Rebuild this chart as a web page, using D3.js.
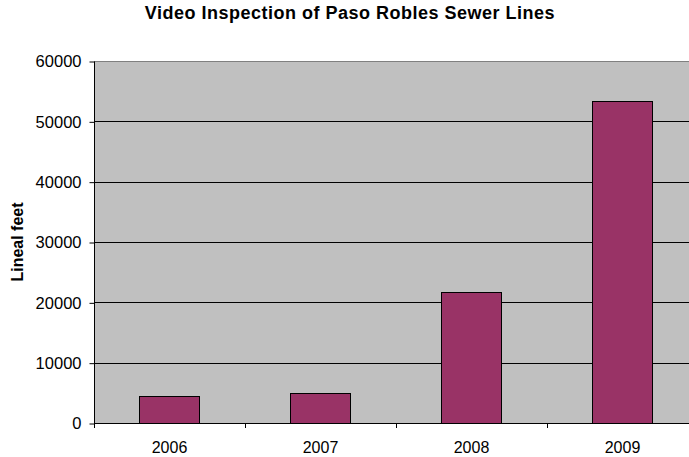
<!DOCTYPE html>
<html>
<head>
<meta charset="utf-8">
<script src="https://cdn.jsdelivr.net/npm/d3@7"></script>
<style>
  html, body { margin: 0; padding: 0; background: #fff; }
  svg { display: block; font-family: "Liberation Sans", Arial, sans-serif; }
</style>
</head>
<body>
<svg id="chart" width="689" height="457"></svg>
<script>
// Lineal feet of sewer line inspected by video, per year
const years = ["2006", "2007", "2008", "2009"];
const linealFeet = [4400, 5050, 21700, 53400];
const yTicks = [0, 10000, 20000, 30000, 40000, 50000, 60000];

const titleText = "Video Inspection of Paso Robles Sewer Lines";
const yLabel = "Lineal feet";

const FONT = "'Liberation Sans', Arial, sans-serif";
const svg = d3.select("#chart");
const plot = { left: 94, right: 698, top: 61, bottom: 423 };

const x = d3.scaleBand()
  .domain(years)
  .range([plot.left, plot.right])
  .paddingInner(0.6)
  .paddingOuter(0.3);

const y = d3.scaleLinear()
  .domain([0, 60000])
  .range([plot.bottom, plot.top]);

// plot background
svg.append("rect")
  .attr("x", plot.left + 0.5).attr("y", plot.top + 0.5)
  .attr("width", plot.right - plot.left)
  .attr("height", plot.bottom - plot.top)
  .attr("fill", "#c0c0c0")
  .attr("stroke", "#808080")
  .attr("stroke-width", 1);

// horizontal gridlines
svg.append("g")
  .selectAll("line")
  .data(yTicks.filter(t => t > 0 && t < 60000))
  .join("line")
  .attr("x1", plot.left).attr("x2", plot.right)
  .attr("y1", d => Math.round(y(d)) + 0.5)
  .attr("y2", d => Math.round(y(d)) + 0.5)
  .attr("stroke", "#000")
  .attr("stroke-width", 1);

// bars
svg.append("g")
  .selectAll("rect")
  .data(years.map((yr, i) => ({ yr, v: linealFeet[i] })))
  .join("rect")
  .attr("x", d => Math.round(x(d.yr)) + 0.5)
  .attr("y", d => Math.round(y(d.v)) + 0.5)
  .attr("width", Math.round(x.bandwidth()))
  .attr("height", d => Math.round(y(0)) - Math.round(y(d.v)))
  .attr("fill", "#993366")
  .attr("stroke", "#000")
  .attr("stroke-width", 1);

// y axis
const yAxis = d3.axisLeft(y)
  .tickValues(yTicks)
  .tickSize(5)
  .tickPadding(8)
  .tickFormat(d3.format("d"));

const gy = svg.append("g")
  .attr("transform", `translate(${plot.left + 0.5},0.5)`)
  .call(yAxis);
gy.select(".domain").attr("stroke", "#000").attr("d", `M0,${plot.top}V${plot.bottom}`);
gy.selectAll(".tick line").attr("stroke", "#000");
gy.selectAll(".tick text")
  .attr("font-size", 16.5)
  .attr("fill", "#000")
  .attr("font-family", FONT);

// x axis: ticks sit between categories
const step = x.step();
const gx = svg.append("g");
gx.append("line")
  .attr("x1", plot.left).attr("x2", plot.right)
  .attr("y1", plot.bottom + 0.5).attr("y2", plot.bottom + 0.5)
  .attr("stroke", "#000");
gx.selectAll("line.sep")
  .data(d3.range(years.length + 1))
  .join("line")
  .attr("class", "sep")
  .attr("x1", i => Math.round(plot.left + i * step) + 0.5)
  .attr("x2", i => Math.round(plot.left + i * step) + 0.5)
  .attr("y1", plot.bottom)
  .attr("y2", plot.bottom + 5)
  .attr("stroke", "#000");
gx.selectAll("text")
  .data(years)
  .join("text")
  .attr("x", d => x(d) + x.bandwidth() / 2)
  .attr("y", 453)
  .attr("text-anchor", "middle")
  .attr("font-size", 16)
  .attr("font-family", FONT)
  .attr("fill", "#000")
  .text(d => d);

// title
svg.append("text")
  .attr("x", 350)
  .attr("y", 19)
  .attr("text-anchor", "middle")
  .attr("font-size", 18)
  .attr("font-weight", "bold")
  .attr("letter-spacing", 0.5)
  .attr("font-family", FONT)
  .text(titleText);

// y axis label
svg.append("text")
  .attr("transform", `translate(23,242) rotate(-90)`)
  .attr("text-anchor", "middle")
  .attr("font-size", 16)
  .attr("font-weight", "bold")
  .attr("font-family", FONT)
  .text(yLabel);
</script>
</body>
</html>
